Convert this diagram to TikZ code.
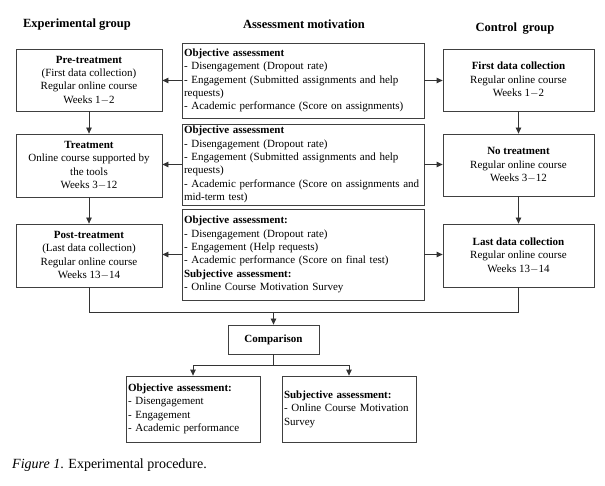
\documentclass[tikz,border=0pt]{standalone}
\usepackage{fontspec}
\setmainfont{Liberation Serif}
\usetikzlibrary{arrows.meta}
\begin{document}
\begin{tikzpicture}[x=1pt,y=-1pt,
  box/.style={draw=black!75, line width=0.8pt, inner sep=2pt, align=center,
    font=\fontsize{11}{13.4}\selectfont},
  asmbox/.style={box, align=left, text width=238pt, minimum width=242pt},
  hdr/.style={font=\bfseries\fontsize{12.5}{14}\selectfont},
  conn/.style={draw=black!80, line width=0.8pt},
  arr/.style={conn, -{Triangle[length=6pt,width=5.5pt]}}]
\useasboundingbox (0,0) rectangle (605,486);
% headers
\node[hdr] (hexp) at (77,25) {Experimental group};
\node[hdr] (hasm) at (304,24) {Assessment motivation};
\node[hdr] (hctl) at (515,29) {Control\hspace{0.2em} group};
% experimental group
\node[box, minimum width=146pt, minimum height=62pt] (pre) at (89,80)
  {\textbf{Pre-treatment}\\(First data collection)\\Regular online course\\Weeks 1$-$2};
\node[box, minimum width=146pt, minimum height=63pt] (treat) at (89,165.5)
  {\textbf{Treatment}\\Online course supported by\\the tools\\Weeks 3$-$12};
\node[box, minimum width=146pt, minimum height=63pt] (post) at (89,255.5)
  {\textbf{Post-treatment}\\(Last data collection)\\Regular online course\\Weeks 13$-$14};
% assessment
\node[asmbox, minimum height=75pt] (asm1) at (303,80.5)
  {\textbf{Objective assessment}\\- Disengagement (Dropout rate)\\- Engagement (Submitted assignments and help\\requests)\\- Academic performance (Score on assignments)};
\node[asmbox, minimum height=77pt] (asm2) at (303,164.5)
  {\textbf{Objective assessment}\\- Disengagement (Dropout rate)\\- Engagement (Submitted assignments and help\\requests)\\- Academic performance (Score on assignments and\\mid-term test)};
\node[asmbox, minimum height=91pt] (asm3) at (303,254.5)
  {\textbf{Objective assessment:}\\- Disengagement (Dropout rate)\\- Engagement (Help requests)\\- Academic performance (Score on final test)\\\textbf{Subjective assessment:}\\- Online Course Motivation Survey};
% control group
\node[box, minimum width=151pt, minimum height=62pt] (first) at (518.5,80)
  {\textbf{First data collection}\\Regular online course\\Weeks 1$-$2};
\node[box, minimum width=151pt, minimum height=62pt] (notreat) at (518.5,165)
  {\textbf{No treatment}\\Regular online course\\Weeks 3$-$12};
\node[box, minimum width=151pt, minimum height=63pt] (lastc) at (518.5,255.5)
  {\textbf{Last data collection}\\Regular online course\\Weeks 13$-$14};
% comparison
\node[box, minimum width=91pt, minimum height=29pt] (comp) at (273.5,339.5)
  {\textbf{Comparison}};
\node[box, align=left, text width=130pt, minimum width=134pt, minimum height=66pt] (obj) at (193,409)
  {\textbf{Objective assessment:}\\- Disengagement\\- Engagement\\- Academic performance};
\node[box, align=left, text width=130pt, minimum width=134pt, minimum height=66pt] (subj) at (349,409)
  {\textbf{Subjective assessment:}\\- Online Course Motivation\\Survey};
% caption
\node[anchor=west, inner sep=0pt, font=\fontsize{14}{16}\selectfont] (cap) at (12,465)
  {\textit{Figure 1}. Experimental procedure.};
% arrows
\draw[arr] (pre.south) -- (treat.north);
\draw[arr] (treat.south) -- (post.north);
\draw[arr] (first.south) -- (notreat.north);
\draw[arr] (notreat.south) -- (lastc.north);
\draw[arr] (asm1.west) -- (asm1.west -| pre.east);
\draw[arr] (asm2.west) -- (asm2.west -| treat.east);
\draw[arr] (asm3.west) -- (asm3.west -| post.east);
\draw[arr] (asm1.east) -- (asm1.east -| first.west);
\draw[arr] (asm2.east) -- (asm2.east -| notreat.west);
\draw[arr] (asm3.east) -- (asm3.east -| lastc.west);
\coordinate (mid) at (273.5,312);
\draw[conn] (post.south) -- (post.south |- mid) -- (lastc.south |- mid) -- (lastc.south);
\draw[arr] (mid) -- (comp.north);
\coordinate (split) at (273.5,365);
\draw[conn] (comp.south) -- (split);
\draw[arr] (split) -| (obj.north);
\draw[arr] (split) -| (subj.north);
\end{tikzpicture}
\end{document}
